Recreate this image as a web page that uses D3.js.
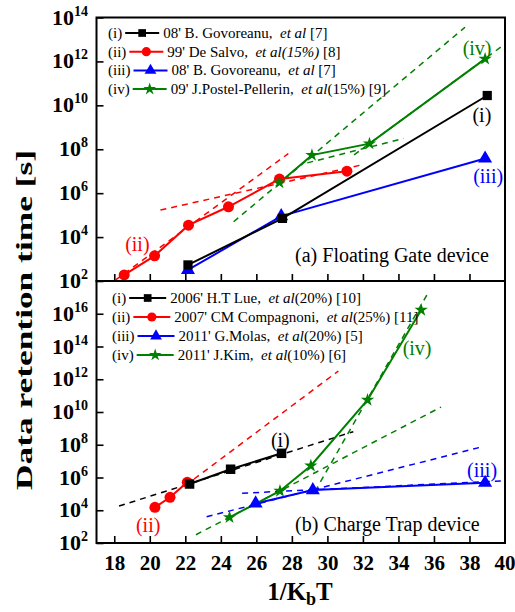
<!DOCTYPE html>
<html>
<head>
<meta charset="utf-8">
<script src="https://cdn.jsdelivr.net/npm/d3@7"></script>
<style>
  body { margin: 0; background: #fff; }
  svg text { font-family: "Liberation Serif", "Times New Roman", serif; white-space: pre; }
</style>
</head>
<body>
<div class="chart"></div>
<script>
// ---- data ----
const xTicks = [18, 20, 22, 24, 26, 28, 30, 32, 34, 36, 38, 40];
const fgExps = [2, 4, 6, 8, 10, 12, 14];
const ctExps = [2, 4, 6, 8, 10, 12, 14, 16];

// (a) floating gate
const fgX1 = [22.15, 27.47, 39.0];
const fgY1 = [5.4e2, 7.1e4, 2.8e10];
const fgX2 = [18.56, 20.27, 22.18, 24.43, 27.3, 31.1];
const fgY2 = [1.9e2, 1.4e3, 3.5e4, 2.4e5, 4.4e6, 1.0e7];
const fgX3 = [22.15, 27.4, 38.88];
const fgY3 = [3.2e2, 9.0e4, 3.8e7];
const fgX4 = [27.3, 29.13, 32.37, 38.88];
const fgY4 = [3.0e6, 5.4e7, 1.8e8, 1.3e12];
// fit lines (start, end)
const fgFitRed = [[[18.06, 1.1e2], [27.8, 6.3e7]], [[20.6, 1.7e5], [32.0, 2.0e7]]];
const fgFitGreen = [[[24.72, 5.0e4], [37.75, 3.6e13]], [[28.87, 2.4e7], [34.29, 3.1e8]], [[31.5, 5.5e7], [39.9, 5.4e12]]];

// (b) charge trap
const ctX1 = [22.24, 24.55, 27.42];
const ctY1 = [4.0e5, 3.2e6, 3.0e7];
const ctX2 = [20.29, 21.14, 22.11];
const ctY2 = [1.5e4, 6.2e4, 5.1e5];
const ctX3 = [25.96, 29.18, 38.88];
const ctY3 = [2.6e4, 1.7e5, 4.8e5];
const ctX4 = [24.49, 27.33, 29.07, 32.26, 35.28];
const ctY4 = [3.7e3, 1.5e5, 5.2e6, 5.4e10, 1.7e16];
const ctFitBlack = [[[18.27, 1.8e4], [31.46, 6.3e8]]];
const ctFitRed = [[[22.0, 3.2e5], [30.62, 3.2e12]]];
const ctFitGreen = [[[22.6, 3.2e2], [36.4, 2.0e10]], [[29.3, 1.4e5], [35.6, 1.4e17]]];
const ctFitBlue = [[[23.2, 4.0e3], [38.8, 7.9e7]], [[25.2, 1.1e5], [39.8, 6.2e5]]];

// legend texts
const romans = ["(i)", "(ii)", "(iii)", "(iv)"];
const fgAuthors = ["08' B. Govoreanu,  ", "99' De Salvo,  ", "08' B. Govoreanu,  ", "09' J.Postel-Pellerin,  "];
const fgEtal = ["et al", "et al(15%)", "et al", "et al"];
const fgRefs = [" [7]", " [8]", " [7]", "(15%) [9]"];
const ctAuthors = ["2006' H.T Lue,  ", "2007' CM Compagnoni,  ", "2011' G.Molas,  ", "2011' J.Kim,  "];
const ctEtal = ["et al", "et al", "et al", "et al"];
const ctRefs = ["(20%) [10]", "(25%) [11]", "(20%) [5]", "(10%) [6]"];

// ---- layout ----
const W = 515, H = 612;
const left = 96.5, right = 505;
const aTop = 17.5, mid = 281, bBottom = 543;
const serif = "Liberation Serif, Times New Roman, serif";

const black = "#000", red = "#ff0000", blue = "#0000ff", green = "#008000";

const svg = d3.select(".chart").append("svg")
  .attr("width", W).attr("height", H)
  .attr("font-family", serif);

const x = d3.scaleLinear().domain([17, 40]).range([left, right]);
const yA = d3.scaleLog().domain([1e2, 1e14]).range([mid, aTop]);
const yB = d3.scaleLog().domain([1e2, 1e18]).range([bBottom, mid]);

const zip = (xs, ys) => xs.map((v, i) => [v, ys[i]]);

function drawPanel(y, series, fits, top, bottom, exps, showXLabels) {
  const g = svg.append("g");
  const line = d3.line().x(d => x(d[0])).y(d => y(d[1]));

  // ticks (inward)
  g.append("g").attr("transform", `translate(0,${bottom})`)
    .call(d3.axisBottom(x).tickValues(xTicks.filter(v => v < 40)).tickSize(-7).tickSizeOuter(0)
      .tickFormat(showXLabels ? d3.format("d") : "").tickPadding(12))
    .attr("font-family", serif)
    .call(a => a.select(".domain").remove())
    .call(a => a.selectAll("line").attr("stroke-width", 1.6))
    .call(a => a.selectAll("text").attr("fill", "#000")
      .style("font-size", "21px").style("font-weight", "bold"));
  if (showXLabels) {
    g.append("text").attr("x", x(40)).attr("y", bottom + 12).attr("dy", "0.71em")
      .attr("text-anchor", "middle").style("font-size", "21px").style("font-weight", "bold").text("40");
  }
  g.append("g").attr("transform", `translate(${left},0)`)
    .call(d3.axisLeft(y).tickValues(exps.map(e => Math.pow(10, e))).tickSize(-7).tickSizeOuter(0).tickFormat(""))
    .call(a => a.select(".domain").remove())
    .call(a => a.selectAll("line").attr("stroke-width", 1.6));

  const lab = g.selectAll("text.ylab").data(exps).join("text")
    .attr("class", "ylab")
    .attr("x", 88).attr("y", d => y(Math.pow(10, d)) + 7)
    .attr("text-anchor", "end")
    .style("font-weight", "bold").style("font-size", "22px");
  lab.append("tspan").text("10");
  lab.append("tspan").attr("dy", -9).style("font-size", "14px").text(d => d);

  // fit lines
  fits.forEach(f => {
    f.lines.forEach(l => {
      g.append("path").attr("d", line(l)).attr("fill", "none")
        .attr("stroke", f.color).attr("stroke-width", 1.5).attr("stroke-dasharray", "6,5");
    });
  });

  // data lines + markers
  series.forEach(s => {
    const pts = zip(s.x, s.y);
    g.append("path").attr("d", line(pts)).attr("fill", "none")
      .attr("stroke", s.color).attr("stroke-width", 2);
  });
  series.forEach(s => {
    const pts = zip(s.x, s.y);
    g.selectAll(null).data(pts).join("path")
      .attr("d", d3.symbol().type(s.symbol).size(s.size))
      .attr("transform", d => `translate(${x(d[0])},${y(d[1])})`)
      .attr("fill", s.color);
  });

  // frame
  g.append("rect").attr("x", left).attr("y", top)
    .attr("width", right - left).attr("height", bottom - top)
    .attr("fill", "none").attr("stroke", "#000").attr("stroke-width", 2);
  return g;
}

function legend(g, authors, etal, refs, styles, x0, y0, dy, len) {
  authors.forEach((a, i) => {
    const yy = y0 + i * dy;
    const pre = g.append("text").attr("x", x0).attr("y", yy)
      .style("font-size", "15px").text(romans[i]);
    const lx = x0 + pre.node().getComputedTextLength() + 3;
    g.append("line").attr("x1", lx).attr("x2", lx + len)
      .attr("y1", yy - 5).attr("y2", yy - 5)
      .attr("stroke", styles[i].color).attr("stroke-width", 2);
    g.append("path")
      .attr("d", d3.symbol().type(styles[i].symbol).size(styles[i].size * 0.7))
      .attr("transform", `translate(${lx + len / 2},${yy - 5})`)
      .attr("fill", styles[i].color);
    const t = g.append("text").attr("x", lx + len + 4).attr("y", yy).style("font-size", "15px");
    t.append("tspan").text(a);
    t.append("tspan").style("font-style", "italic").text(etal[i]);
    t.append("tspan").text(refs[i]);
  });
}

function note(g, y, txt, xv, yv, color, anchor) {
  g.append("text").attr("x", x(xv)).attr("y", y(yv))
    .attr("text-anchor", anchor || "middle")
    .attr("fill", color).style("font-size", "20px").text(txt);
}

// ---- panel (a) ----
const fgSeries = [
  { x: fgX2, y: fgY2, color: red, symbol: d3.symbolCircle, size: 95 },
  { x: fgX3, y: fgY3, color: blue, symbol: d3.symbolTriangle, size: 85 },
  { x: fgX1, y: fgY1, color: black, symbol: d3.symbolSquare, size: 85 },
  { x: fgX4, y: fgY4, color: green, symbol: d3.symbolStar, size: 55 }
];
const gA = drawPanel(yA, fgSeries,
  [{ color: red, lines: fgFitRed }, { color: green, lines: fgFitGreen }],
  aTop, mid, fgExps, false);
const legStyles = [
  { color: black, symbol: d3.symbolSquare, size: 85 },
  { color: red, symbol: d3.symbolCircle, size: 95 },
  { color: blue, symbol: d3.symbolTriangle, size: 85 },
  { color: green, symbol: d3.symbolStar, size: 70 }
];
legend(gA, fgAuthors, fgEtal, fgRefs, legStyles, 108, 38, 18.7, 34);
note(gA, yA, "(i)", 38.7, Math.pow(10, 9.23), black);
note(gA, yA, "(iii)", 39.05, Math.pow(10, 6.45), blue);
note(gA, yA, "(iv)", 38.43, Math.pow(10, 12.3), green);
note(gA, yA, "(ii)", 19.3, Math.pow(10, 3.36), red);
note(gA, yA, "(a) Floating Gate device", 28.18, Math.pow(10, 2.86), black, "start");

// ---- panel (b) ----
const ctSeries = [
  { x: ctX2, y: ctY2, color: red, symbol: d3.symbolCircle, size: 95 },
  { x: ctX3, y: ctY3, color: blue, symbol: d3.symbolTriangle, size: 85 },
  { x: ctX1, y: ctY1, color: black, symbol: d3.symbolSquare, size: 90 },
  { x: ctX4, y: ctY4, color: green, symbol: d3.symbolStar, size: 55 }
];
const gB = drawPanel(yB, ctSeries,
  [{ color: black, lines: ctFitBlack }, { color: red, lines: ctFitRed },
   { color: green, lines: ctFitGreen }, { color: blue, lines: ctFitBlue }],
  mid, bBottom, ctExps, true);
legend(gB, ctAuthors, ctEtal, ctRefs, legStyles, 112, 303, 19, 37);
note(gB, yB, "(i)", 27.35, Math.pow(10, 7.86), black);
note(gB, yB, "(ii)", 19.91, Math.pow(10, 2.67), red);
note(gB, yB, "(iii)", 38.71, Math.pow(10, 6.03), blue);
note(gB, yB, "(iv)", 35.05, Math.pow(10, 13.48), green);
note(gB, yB, "(b) Charge Trap device", 28.18, Math.pow(10, 2.73), black, "start");

// ---- axis titles ----
svg.append("text")
  .attr("transform", "translate(32,320) rotate(-90)")
  .attr("text-anchor", "middle")
  .attr("textLength", 340).attr("lengthAdjust", "spacingAndGlyphs")
  .style("font-size", "24px").style("font-weight", "bold")
  .text("Data retention time [s]");

const xt = svg.append("text").attr("x", 300).attr("y", 600)
  .attr("text-anchor", "middle")
  .style("font-size", "25px").style("font-weight", "bold");
xt.append("tspan").text("1/K");
xt.append("tspan").attr("dy", 5).style("font-size", "18px").text("b");
xt.append("tspan").attr("dy", -5).text("T");
</script>
</body>
</html>
